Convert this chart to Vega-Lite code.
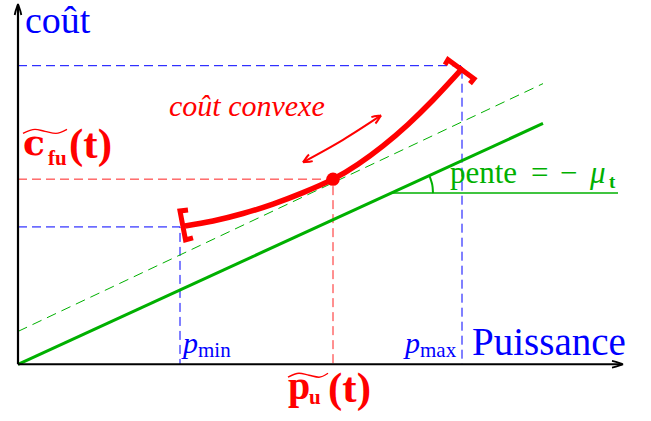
{
  "$schema": "https://vega.github.io/schema/vega-lite/v6.json",
  "width": 651,
  "height": 421,
  "padding": 0,
  "autosize": {"type": "fit", "contains": "padding"},
  "background": "white",
  "config": {"view": {"stroke": null}},
  "encoding": {
    "x": {"field": "p", "type": "quantitative", "scale": {"domain": [-18, 633], "nice": false, "zero": false}, "axis": null},
    "y": {"field": "c", "type": "quantitative", "scale": {"domain": [-57, 364], "nice": false, "zero": false}, "axis": null}
  },
  "layer": [
    {
      "data": {"values": [
        {"g": "a", "i": 0, "p": 0, "c": 300}, {"g": "a", "i": 1, "p": 444, "c": 300}, {"g": "a", "i": 2, "p": 444, "c": 0},
        {"g": "b", "i": 0, "p": 0, "c": 138}, {"g": "b", "i": 1, "p": 162, "c": 138}, {"g": "b", "i": 2, "p": 162, "c": 0}
      ]},
      "mark": {"type": "line", "color": "#0000ff", "strokeWidth": 1, "strokeDash": [9, 5]},
      "encoding": {"detail": {"field": "g"}, "order": {"field": "i"}}
    },
    {
      "data": {"values": [
        {"g": "r", "i": 0, "p": 0, "c": 186}, {"g": "r", "i": 1, "p": 315, "c": 186}, {"g": "r", "i": 2, "p": 315, "c": 0}
      ]},
      "mark": {"type": "line", "color": "#ff2020", "strokeWidth": 1, "strokeDash": [9, 5]},
      "encoding": {"detail": {"field": "g"}, "order": {"field": "i"}}
    },
    {
      "data": {"values": [{"p": 0, "c": 33}, {"p": 525, "c": 282}]},
      "mark": {"type": "line", "color": "#00b000", "strokeWidth": 1, "strokeDash": [10, 6]},
      "encoding": {}
    },
    {
      "data": {"values": [{"p": 0, "c": 0}, {"p": 525, "c": 242}]},
      "mark": {"type": "line", "color": "#00b000", "strokeWidth": 3},
      "encoding": {}
    },
    {
      "data": {"values": [{"p": 372, "c": 172}, {"p": 600, "c": 172}]},
      "mark": {"type": "line", "color": "#00b000", "strokeWidth": 1.5},
      "encoding": {}
    },
    {
      "data": {"values": [
        {"i": 0, "p": 415, "c": 172}, {"i": 1, "p": 414.6, "c": 178}, {"i": 2, "p": 413.3, "c": 183.9}, {"i": 3, "p": 411, "c": 190}
      ]},
      "mark": {"type": "line", "color": "#00b000", "strokeWidth": 2, "interpolate": "monotone"},
      "encoding": {"order": {"field": "i"}}
    },
    {
      "data": {"values": [
        {"p": 167, "c": 139}, {"p": 195, "c": 144}, {"p": 225, "c": 151.5}, {"p": 255, "c": 161},
        {"p": 285, "c": 172.5}, {"p": 315, "c": 186}, {"p": 340, "c": 201}, {"p": 365, "c": 219.5},
        {"p": 390, "c": 241}, {"p": 415, "c": 265.5}, {"p": 435, "c": 287}, {"p": 445, "c": 298}
      ]},
      "mark": {"type": "line", "color": "#ff0000", "strokeWidth": 5.5, "interpolate": "natural"},
      "encoding": {}
    },
    {
      "data": {"values": [
        {"g": "l", "i": 0, "p": 170, "c": 155}, {"g": "l", "i": 1, "p": 162, "c": 154}, {"g": "l", "i": 2, "p": 167.5, "c": 125}, {"g": "l", "i": 3, "p": 175, "c": 127},
        {"g": "r", "i": 0, "p": 427, "c": 301}, {"g": "r", "i": 1, "p": 430, "c": 306}, {"g": "r", "i": 2, "p": 456, "c": 287}, {"g": "r", "i": 3, "p": 452, "c": 282}
      ]},
      "mark": {"type": "line", "color": "#ff0000", "strokeWidth": 5, "strokeJoin": "miter"},
      "encoding": {"detail": {"field": "g"}, "order": {"field": "i"}}
    },
    {
      "data": {"values": [{"p": 315, "c": 186}]},
      "mark": {"type": "point", "shape": "circle", "filled": true, "color": "#ff0000", "size": 180, "opacity": 1}
    },
    {
      "data": {"values": [{"p": 285, "c": 203}, {"p": 325, "c": 225.5}, {"p": 363, "c": 250}]},
      "mark": {"type": "line", "color": "#ff0000", "strokeWidth": 2, "interpolate": "monotone"},
      "encoding": {}
    },
    {
      "data": {"values": [{"p": 363, "c": 250}]},
      "mark": {"type": "point", "shape": "M-0.42,1 C-0.3,0.5 -0.05,0.2 0,0 C0.05,0.2 0.3,0.5 0.42,1", "filled": false, "color": "#ff0000", "strokeWidth": 2, "size": 324, "angle": 57.7, "opacity": 1}
    },
    {
      "data": {"values": [{"p": 285, "c": 203}]},
      "mark": {"type": "point", "shape": "M-0.42,1 C-0.3,0.5 -0.05,0.2 0,0 C0.05,0.2 0.3,0.5 0.42,1", "filled": false, "color": "#ff0000", "strokeWidth": 2, "size": 324, "angle": 240.6, "opacity": 1}
    },
    {
      "data": {"values": [
        {"g": "y", "i": 0, "p": 0, "c": 0}, {"g": "y", "i": 1, "p": 0, "c": 361},
        {"g": "x", "i": 0, "p": 0, "c": 0}, {"g": "x", "i": 1, "p": 604, "c": 0}
      ]},
      "mark": {"type": "line", "color": "#000000", "strokeWidth": 2.2},
      "encoding": {"detail": {"field": "g"}, "order": {"field": "i"}}
    },
    {
      "data": {"values": [{"p": 0, "c": 362}]},
      "mark": {"type": "point", "shape": "M-0.3,1 C-0.22,0.5 -0.05,0.2 0,0 C0.05,0.2 0.22,0.5 0.3,1", "filled": false, "color": "#000000", "strokeWidth": 1.8, "size": 484, "angle": 0, "opacity": 1}
    },
    {
      "data": {"values": [{"p": 605, "c": 0}]},
      "mark": {"type": "point", "shape": "M-0.3,1 C-0.22,0.5 -0.05,0.2 0,0 C0.05,0.2 0.22,0.5 0.3,1", "filled": false, "color": "#000000", "strokeWidth": 1.8, "size": 484, "angle": 90, "opacity": 1}
    },
    {
      "data": {"values": [{"t": "coût", "p": 7, "c": 333}]},
      "mark": {"type": "text", "font": "Liberation Serif", "fontSize": 38, "color": "#0000ff", "align": "left", "baseline": "alphabetic"},
      "encoding": {"text": {"field": "t"}}
    },
    {
      "data": {"values": [{"t": "Puissance", "p": 454, "c": 9}]},
      "mark": {"type": "text", "font": "Liberation Serif", "fontSize": 39, "color": "#0000ff", "align": "left", "baseline": "alphabetic"},
      "encoding": {"text": {"field": "t"}}
    },
    {
      "data": {"values": [{"t": "p", "p": 165, "c": 11}, {"t": "p", "p": 387, "c": 11}]},
      "mark": {"type": "text", "font": "Liberation Serif", "fontSize": 30, "fontStyle": "italic", "color": "#0000ff", "align": "left", "baseline": "alphabetic"},
      "encoding": {"text": {"field": "t"}}
    },
    {
      "data": {"values": [{"t": "min", "p": 180, "c": 7}, {"t": "max", "p": 402, "c": 7}]},
      "mark": {"type": "text", "font": "Liberation Serif", "fontSize": 21, "color": "#0000ff", "align": "left", "baseline": "alphabetic"},
      "encoding": {"text": {"field": "t"}}
    },
    {
      "data": {"values": [{"t": "coût convexe", "p": 151, "c": 249}]},
      "mark": {"type": "text", "font": "Liberation Serif", "fontSize": 30, "fontStyle": "italic", "color": "#ff0000", "align": "left", "baseline": "alphabetic"},
      "encoding": {"text": {"field": "t"}}
    },
    {
      "data": {"values": [{"t": "c", "p": 5, "c": 210}]},
      "mark": {"type": "text", "font": "DejaVu Serif", "fontSize": 36, "fontWeight": "bold", "color": "#ff0000", "align": "left", "baseline": "alphabetic"},
      "encoding": {"text": {"field": "t"}}
    },
    {
      "data": {"values": [{"t": "p", "p": 270, "c": -35}]},
      "mark": {"type": "text", "font": "Liberation Serif", "fontSize": 40, "fontWeight": "bold", "color": "#ff0000", "align": "left", "baseline": "alphabetic"},
      "encoding": {"text": {"field": "t"}}
    },
    {
      "data": {"values": [{"t": "fu", "p": 30, "c": 200}, {"t": "u", "p": 291, "c": -40}]},
      "mark": {"type": "text", "font": "Liberation Serif", "fontSize": 21, "fontWeight": "bold", "color": "#ff0000", "align": "left", "baseline": "alphabetic"},
      "encoding": {"text": {"field": "t"}}
    },
    {
      "data": {"values": [{"t": "(t)", "p": 51, "c": 207}, {"t": "(t)", "p": 310, "c": -38}]},
      "mark": {"type": "text", "font": "Liberation Serif", "fontSize": 43, "fontWeight": "bold", "color": "#ff0000", "align": "left", "baseline": "alphabetic"},
      "encoding": {"text": {"field": "t"}}
    },
    {
      "data": {"values": [
        {"g": "c", "p": 5, "c": 232}, {"g": "c", "p": 17, "c": 236}, {"g": "c", "p": 27, "c": 234}, {"g": "c", "p": 38, "c": 232}, {"g": "c", "p": 49, "c": 236},
        {"g": "p", "p": 270, "c": -13}, {"g": "p", "p": 281, "c": -9}, {"g": "p", "p": 291, "c": -11}, {"g": "p", "p": 301, "c": -13}, {"g": "p", "p": 310, "c": -9}
      ]},
      "mark": {"type": "line", "color": "#ff0000", "strokeWidth": 1.4, "interpolate": "monotone"},
      "encoding": {"detail": {"field": "g"}}
    },
    {
      "data": {"values": [{"t": "pente", "p": 432, "c": 182}, {"t": "=", "p": 513, "c": 182}, {"t": "−", "p": 542, "c": 182}]},
      "mark": {"type": "text", "font": "Liberation Serif", "fontSize": 31, "color": "#00b000", "align": "left", "baseline": "alphabetic"},
      "encoding": {"text": {"field": "t"}}
    },
    {
      "data": {"values": [{"t": "μ", "p": 572, "c": 182}]},
      "mark": {"type": "text", "font": "Liberation Serif", "fontSize": 31, "fontStyle": "italic", "color": "#00b000", "align": "left", "baseline": "alphabetic"},
      "encoding": {"text": {"field": "t"}}
    },
    {
      "data": {"values": [{"t": "t", "p": 591, "c": 177}]},
      "mark": {"type": "text", "font": "Liberation Serif", "fontSize": 19, "fontWeight": "bold", "color": "#00b000", "align": "left", "baseline": "alphabetic"},
      "encoding": {"text": {"field": "t"}}
    }
  ]
}
